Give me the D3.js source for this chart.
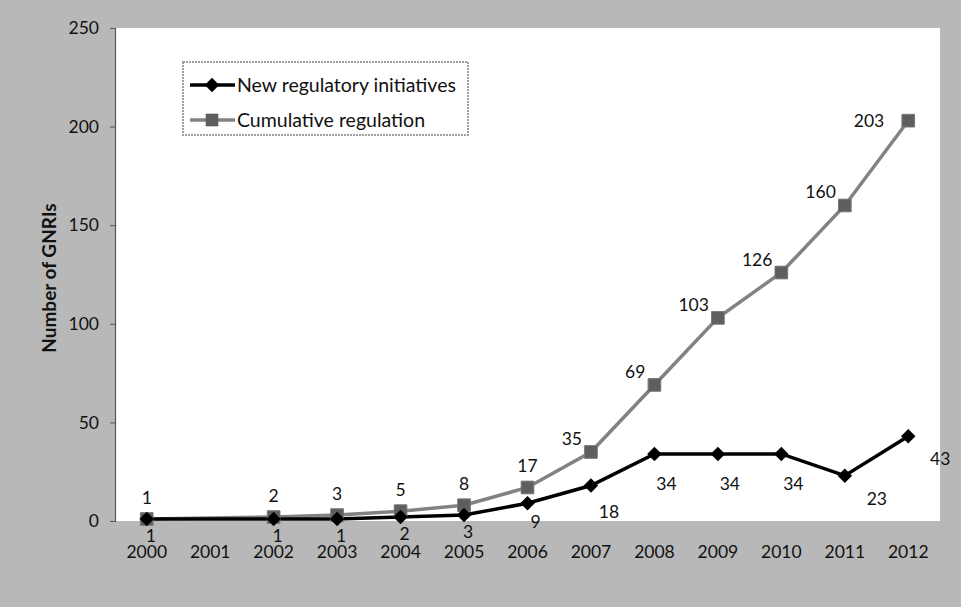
<!DOCTYPE html>
<html>
<head>
<meta charset="utf-8">
<script src="https://cdn.jsdelivr.net/npm/d3@7/dist/d3.min.js"></script>
<style>
  html, body { margin: 0; padding: 0; background: #b8b8b8; }
  svg { display: block; }
  text { font-family: Lato, "Liberation Sans", sans-serif; fill: #111; }
</style>
</head>
<body>
<svg id="chart" width="961" height="607"></svg>
<script>
// ---- data ----
const years = ["2000","2001","2002","2003","2004","2005","2006","2007","2008","2009","2010","2011","2012"];
const newInitiatives = [1, null, 1, 1, 2, 3, 9, 18, 34, 34, 34, 23, 43];
const cumulative = [1, null, 2, 3, 5, 8, 17, 35, 69, 103, 126, 160, 203];
const yTicks = [0, 50, 100, 150, 200, 250];
const seriesNames = ["New regulatory initiatives", "Cumulative regulation"];
const yTitle = "Number of GNRIs";
// label placement keywords (style)
const newLabelPos = ["b","b","b","b","b","b","b2","br2","br","br","br","r","r"];
const cumLabelPos = ["a","a","a","a","a","a","a","l","l","l","l","l","l2"];

// ---- layout ----
const W = 961, H = 607;
const plot = { left: 115, right: 940, top: 28, bottom: 521 };
const svg = d3.select("#chart");

svg.append("rect").attr("x", 0).attr("y", 0).attr("width", W).attr("height", H).attr("fill", "#b8b8b8");
svg.append("rect").attr("x", plot.left).attr("y", plot.top)
  .attr("width", plot.right - plot.left).attr("height", plot.bottom - plot.top).attr("fill", "#ffffff");

const x = d3.scaleBand().domain(years).range([plot.left, plot.right]);
const cx = d => x(d) + x.bandwidth() / 2;
const y = d3.scaleLinear().domain([0, 250]).range([plot.bottom, plot.top]);

const FS = "17.5px";

// y axis
const yAxis = d3.axisLeft(y).tickValues(yTicks).tickSize(5).tickPadding(11);
const gy = svg.append("g").attr("transform", `translate(${plot.left},0)`).call(yAxis);
gy.select(".domain").attr("stroke", "#555").attr("stroke-width", 1.2);
gy.selectAll(".tick line").attr("stroke", "#555");
gy.selectAll(".tick text").style("font-size", FS).attr("fill", "#111")
  .style("font-family", "Lato, sans-serif");

// x axis labels
const xAxis = d3.axisBottom(x).tickSize(0).tickPadding(25);
const gx = svg.append("g").attr("transform", `translate(0,${plot.bottom})`).call(xAxis);
gx.select(".domain").remove();
gx.selectAll(".tick text").style("font-size", FS).attr("fill", "#111")
  .style("font-family", "Lato, sans-serif");

// y title
svg.append("text")
  .attr("transform", `translate(56,278) rotate(-90)`)
  .attr("text-anchor", "middle")
  .style("font-size", "19px").style("font-weight", "bold")
  .text(yTitle);

// series
const mk = (vals) => years.map((yr, i) => ({ yr, v: vals[i], i })).filter(d => d.v !== null);
const newData = mk(newInitiatives);
const cumData = mk(cumulative);

const line = d3.line().x(d => cx(d.yr)).y(d => y(d.v));

svg.append("path").datum(cumData).attr("d", line)
  .attr("fill", "none").attr("stroke", "#828282").attr("stroke-width", 3.5);
svg.append("path").datum(newData).attr("d", line)
  .attr("fill", "none").attr("stroke", "#000").attr("stroke-width", 3.5);

const sq = d3.symbol().type(d3.symbolSquare).size(160);
const dia = d3.symbol().type(d3.symbolSquare).size(105);

svg.selectAll(".cm").data(cumData).enter().append("path")
  .attr("d", sq).attr("transform", d => `translate(${cx(d.yr)},${y(d.v)})`)
  .attr("fill", "#5e5e5e").attr("stroke", "#777").attr("stroke-width", 1);
svg.selectAll(".nm").data(newData).enter().append("path")
  .attr("d", dia).attr("transform", d => `translate(${cx(d.yr)},${y(d.v)}) rotate(45)`)
  .attr("fill", "#000");

// data labels
const newOff = { b: [4, 23, "middle"], b2: [8, 25, "middle"], br2: [18, 32, "middle"], br: [12, 36, "middle"], r: [32, 29, "middle"] };
const cumOff = { a: [0, -15, "middle"], l: [-9, -7, "end"], l2: [-24, 6, "end"] };

svg.selectAll(".nl").data(newData).enter().append("text")
  .attr("x", d => cx(d.yr) + newOff[newLabelPos[d.i]][0])
  .attr("y", d => y(d.v) + newOff[newLabelPos[d.i]][1])
  .attr("text-anchor", d => newOff[newLabelPos[d.i]][2])
  .style("font-size", FS).text(d => d.v);

svg.selectAll(".cl").data(cumData).enter().append("text")
  .attr("x", d => cx(d.yr) + cumOff[cumLabelPos[d.i]][0])
  .attr("y", d => y(d.v) + cumOff[cumLabelPos[d.i]][1])
  .attr("text-anchor", d => cumOff[cumLabelPos[d.i]][2])
  .style("font-size", FS).text(d => d.v);

// legend
const lg = svg.append("g");
lg.append("rect").attr("x", 183).attr("y", 62).attr("width", 285).attr("height", 73)
  .attr("fill", "#fff").attr("stroke", "#a0a0a0").attr("stroke-width", 2).attr("stroke-dasharray", "2,1");
const legendItems = [
  { name: seriesNames[0], color: "#000", sym: dia, fill: "#000", rot: 45 },
  { name: seriesNames[1], color: "#828282", sym: sq, fill: "#5e5e5e", rot: 0 }
];
legendItems.forEach((it, k) => {
  const ly = 85 + k * 35;
  lg.append("line").attr("x1", 190).attr("x2", 235).attr("y1", ly).attr("y2", ly)
    .attr("stroke", it.color).attr("stroke-width", 3.5);
  lg.append("path").attr("d", it.sym).attr("transform", `translate(212,${ly}) rotate(${it.rot})`).attr("fill", it.fill);
  lg.append("text").attr("x", 237).attr("y", ly + 7).style("font-size", "19.5px").text(it.name);
});
</script>
</body>
</html>
